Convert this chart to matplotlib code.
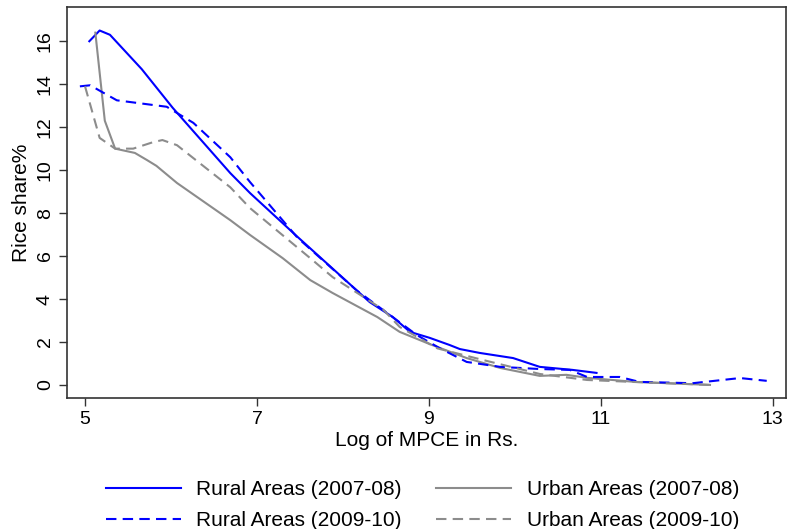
import matplotlib.pyplot as plt

plt.rcParams['font.family'] = ['Liberation Sans', 'DejaVu Sans']

# rural 2007-08
rural07_x = [5.05, 5.17, 5.29, 5.66, 6.02, 6.69, 6.92, 7.47, 8.31, 8.58, 8.78, 9.01, 9.24, 9.36, 9.59, 9.98, 10.29, 10.67, 10.95]
rural07_y = [16.0, 16.5, 16.3, 14.7, 12.9, 9.86, 8.93, 6.9, 3.86, 3.16, 2.47, 2.19, 1.86, 1.67, 1.49, 1.25, 0.84, 0.70, 0.56]

# rural 2009-10
rural09_x = [4.94, 5.06, 5.17, 5.37, 5.95, 6.26, 6.69, 6.92, 7.47, 8.16, 8.78, 8.86, 9.13, 9.44, 9.83, 10.29, 10.64, 10.84, 11.22, 11.45, 12.07, 12.62, 12.93]
rural09_y = [13.9, 13.95, 13.7, 13.25, 12.95, 12.2, 10.6, 9.44, 6.86, 4.4, 2.56, 2.32, 1.7, 1.07, 0.84, 0.74, 0.70, 0.37, 0.37, 0.14, 0.08, 0.32, 0.19]

# urban 2007-08
urban07_x = [5.12, 5.23, 5.35, 5.58, 5.72, 5.83, 6.07, 6.69, 6.92, 7.3, 7.62, 7.88, 8.4, 8.66, 9.01, 9.44, 9.83, 10.29, 10.6, 10.84, 11.4, 12.27]
urban07_y = [16.4, 12.3, 11.0, 10.8, 10.47, 10.2, 9.4, 7.67, 6.98, 5.9, 4.88, 4.28, 3.16, 2.47, 1.9, 1.25, 0.79, 0.42, 0.47, 0.33, 0.14, 0.0]

# urban 2009-10
urban09_x = [5.0, 5.17, 5.35, 5.56, 5.79, 5.9, 6.07, 6.69, 6.92, 7.65, 7.88, 8.47, 8.66, 9.1, 9.63, 10.29, 10.84, 11.37, 12.27]
urban09_y = [13.9, 11.5, 11.0, 11.0, 11.3, 11.4, 11.16, 9.2, 8.23, 5.8, 5.02, 3.5, 2.7, 1.7, 1.16, 0.51, 0.23, 0.14, 0.0]

labels = ['Rural Areas (2007-08)', 'Rural Areas (2009-10)', 'Urban Areas (2007-08)', 'Urban Areas (2009-10)']

fig = plt.figure(figsize=(7.88, 5.29), dpi=100)
ax = fig.add_axes([0.085, 0.248, 0.912, 0.739])

l1, = ax.plot(rural07_x, rural07_y, color='#0000ff', lw=1.5)
l3, = ax.plot(urban07_x, urban07_y, color='#8c8c8c', lw=1.5)
l2, = ax.plot(rural09_x, rural09_y, color='#0000ff', lw=1.5, ls=(0, (5, 3)))
l4, = ax.plot(urban09_x, urban09_y, color='#8c8c8c', lw=1.5, ls=(0, (5, 3)))

ax.set_xlim(4.79, 13.15)
ax.set_ylim(-0.6, 17.6)
ax.set_xticks([5, 7, 9, 11, 13])
ax.set_yticks(range(0, 17, 2))
ax.tick_params(axis='both', labelsize=14, length=6, width=1, color='#333333')
for t in ax.get_yticklabels():
    t.set_rotation(90)
    t.set_va('center')
for s in ax.spines.values():
    s.set_color('#333333')
    s.set_linewidth(1.2)

ax.set_xlabel('Log of MPCE in Rs.', fontsize=15, labelpad=2)
ax.set_ylabel('Rice share%', fontsize=15, labelpad=4)

fig.legend([l1, l2, l3, l4], labels, loc='lower center', bbox_to_anchor=(0.536, -0.037),
           ncol=2, frameon=False, fontsize=15, handlelength=3.6, columnspacing=1.63,
           handletextpad=0.75, labelspacing=0.55)

plt.savefig('out.png', dpi=100)
